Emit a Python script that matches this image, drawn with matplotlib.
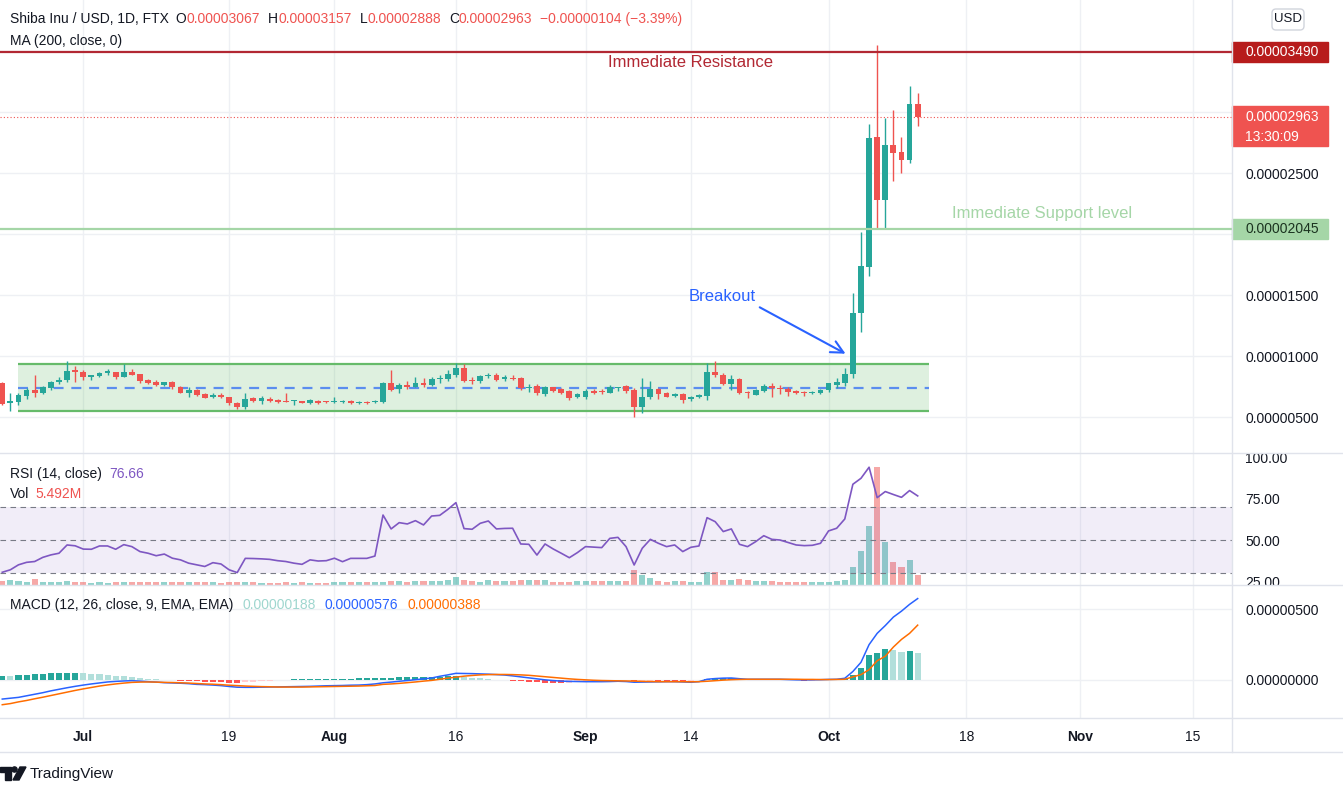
import numpy as np
import pandas as pd
import matplotlib
matplotlib.use("Agg")
import matplotlib.pyplot as plt
import matplotlib.dates as mdates
from matplotlib.patches import Rectangle, FancyBboxPatch, Polygon, Circle
from matplotlib.lines import Line2D
from matplotlib.text import Annotation
from matplotlib.transforms import IdentityTransform, Bbox, TransformedBbox
from matplotlib.ticker import FuncFormatter

plt.rcParams['font.family'] = ['Liberation Sans', 'DejaVu Sans']

W, H = 1343, 796
E8 = 1e-8

# daily candles, prices in 1e-8 USD
dates = pd.date_range("2021-06-21", "2021-10-12", freq="D")
open_ = [782, 612, 626, 675, 721, 700, 735, 784, 803, 885,
         872, 831, 836, 858, 866, 825, 872, 852, 803, 787,
         760, 787, 749, 700, 721, 689, 661, 683, 661, 618,
         580, 653, 631, 650, 642, 634, 628, 631, 618, 634,
         626, 623, 626, 634, 618, 626, 620, 626, 782, 727,
         762, 749, 782, 760, 809, 809, 845, 904, 803, 793,
         836, 847, 811, 817, 820, 735, 754, 686, 743, 727,
         716, 661, 667, 716, 711, 700, 735, 754, 721, 585,
         661, 727, 700, 672, 689, 645, 661, 672, 866, 847,
         770, 809, 708, 683, 716, 757, 741, 732, 716, 705,
         700, 694, 721, 762, 776, 850, 1350, 1732, 2792, 2279,
         2729, 2672, 2607, 3067]
high = [790, 694, 700, 741, 844, 754, 798, 825, 962, 921,
        885, 844, 872, 896, 872, 934, 893, 852, 809, 803,
        790, 795, 754, 749, 727, 694, 700, 694, 667, 626,
        700, 667, 672, 667, 648, 694, 640, 631, 648, 640,
        628, 667, 640, 637, 631, 631, 640, 790, 885, 776,
        798, 831, 817, 825, 847, 885, 945, 934, 825, 844,
        863, 858, 847, 844, 825, 770, 770, 754, 749, 735,
        721, 694, 727, 732, 727, 762, 749, 762, 735, 817,
        798, 735, 708, 700, 694, 672, 689, 940, 962, 858,
        844, 817, 716, 727, 770, 782, 762, 749, 721, 716,
        716, 727, 782, 817, 899, 1514, 2019, 2899, 3549, 2948,
        3016, 2792, 3213, 3157]
low = [600, 552, 599, 648, 667, 686, 721, 768, 790, 790,
       803, 803, 825, 844, 809, 825, 847, 776, 768, 754,
       757, 730, 694, 661, 675, 653, 653, 653, 599, 569,
       569, 626, 607, 623, 612, 623, 599, 612, 604, 610,
       618, 618, 612, 607, 607, 607, 612, 618, 716, 700,
       727, 743, 749, 754, 776, 798, 831, 790, 768, 782,
       817, 798, 798, 803, 721, 708, 681, 672, 708, 689,
       640, 653, 650, 689, 689, 694, 716, 694, 498, 536,
       645, 645, 661, 661, 612, 634, 653, 640, 831, 762,
       721, 689, 653, 678, 708, 667, 689, 672, 689, 672,
       689, 689, 708, 735, 754, 817, 1200, 1659, 2046, 2046,
       2437, 2503, 2585, 2888]
close = [607, 631, 681, 721, 700, 743, 784, 803, 880, 872,
         831, 842, 863, 874, 825, 866, 847, 798, 776, 760,
         787, 743, 700, 721, 681, 659, 678, 661, 612, 580,
         645, 631, 653, 631, 623, 626, 634, 615, 637, 615,
         620, 631, 631, 612, 626, 618, 634, 782, 721, 762,
         749, 782, 760, 814, 820, 855, 899, 798, 793, 836,
         847, 803, 825, 809, 735, 743, 694, 743, 716, 694,
         653, 686, 716, 700, 703, 743, 743, 716, 585, 661,
         727, 689, 667, 689, 640, 667, 683, 866, 842, 768,
         809, 694, 694, 721, 757, 735, 727, 708, 694, 700,
         705, 721, 776, 790, 852, 1350, 1738, 2784, 2279, 2729,
         2667, 2607, 3065, 2963]
volume_m = [2.4, 2.7, 2.0, 1.6, 3.3, 1.5, 1.5, 1.5, 2.2, 1.5,
            1.5, 0.9, 1.5, 0.9, 1.5, 1.5, 1.5, 1.5, 1.5, 1.5,
            1.5, 1.5, 1.5, 1.5, 1.5, 1.5, 1.5, 0.9, 1.5, 1.5,
            1.5, 1.5, 0.9, 0.9, 0.9, 1.5, 0.9, 1.5, 0.9, 0.9,
            0.9, 1.5, 1.5, 1.5, 1.5, 1.5, 1.5, 1.5, 2.2, 2.2,
            1.5, 2.2, 2.2, 2.2, 2.2, 2.9, 4.2, 2.9, 2.2, 1.5,
            2.6, 2.2, 2.2, 2.2, 2.6, 2.6, 2.6, 2.6, 1.5, 1.5,
            1.5, 2.2, 2.2, 2.2, 2.2, 2.2, 2.2, 2.2, 8.2, 5.5,
            3.8, 2.2, 1.5, 2.2, 2.2, 1.5, 1.5, 7.0, 7.0, 2.9,
            2.9, 3.3, 2.6, 2.2, 2.2, 2.2, 1.5, 1.5, 1.5, 1.5,
            1.5, 1.5, 1.5, 2.2, 2.9, 9.7, 18.7, 32.4, 64.6, 23.6,
            12.6, 9.6, 13.5, 5.492]
rsi = [30.5, 32, 35, 36.5, 37, 39.5, 41, 42, 47, 46.5,
       44.5, 44.4, 46.4, 46.4, 44.4, 47.2, 46, 43, 42, 40.5,
       41.5, 39, 38, 36, 35, 34, 36.3, 35.5, 32, 30.3,
       38.9, 38.8, 38.6, 38.3, 37.5, 37, 36, 35.3, 38, 37.3,
       37.5, 39, 36.9, 38.9, 38.9, 38.9, 40.3, 65.1, 56.7, 60.5,
       59.7, 61.7, 59.1, 64.5, 64.9, 68.5, 72.6, 56.9, 56.5, 60.1,
       61.5, 56.7, 57, 57.1, 47.6, 47.4, 40.9, 47.6, 44.6, 42,
       39.3, 42.4, 46, 45.7, 45.4, 51, 51.6, 46, 34.9, 45,
       50.4, 48, 46, 47, 43, 45.6, 46.4, 63.5, 61.1, 55.1,
       56.7, 47.4, 46, 49, 52.6, 50.4, 50, 48.5, 47, 46.6,
       46.8, 48, 55.5, 57.1, 62.7, 83.7, 87.3, 94, 75.6, 79.3,
       77.5, 75.8, 79.9, 76.66]
# MACD pane, in 1e-8 USD
macd = [-135, -129, -123, -112, -101, -90, -77, -66, -55, -45,
        -36, -28, -21, -14, -10, -7, -5, -8, -12, -15,
        -19, -21, -23, -26, -31, -33, -36, -40, -46, -51,
        -52, -52, -51, -50, -49, -48, -47, -46, -45, -43,
        -41, -40, -39, -37, -36, -33, -28, -20, -15, -9,
        -4, 2, 8, 14, 26, 36, 47, 46, 45, 43,
        41, 38, 35, 29, 22, 15, 8, 1, -4, -8,
        -10, -11, -12, -12, -12, -11, -9, -11, -16, -15,
        -14, -13, -12, -12, -14, -16, -12, 5, 10, 13,
        14, 9, 5, 5, 5, 5, 5, 3, 1, 0,
        1, 2, 4, 5, 12, 60, 125, 250, 330, 385,
        445, 487, 535, 576]
signal = [-175, -167, -155, -145, -133, -122, -110, -98, -86, -74,
          -63, -53, -43, -35, -28, -22, -17, -15, -14, -15,
          -17, -18, -20, -22, -25, -28, -30, -33, -37, -40,
          -43, -45, -47, -48, -50, -50, -50, -50, -49, -48,
          -47, -46, -45, -44, -43, -41, -39, -31, -28, -24,
          -19, -14, -8, -3, 5, 13, 20, 27, 32, 36,
          38, 39, 39, 38, 36, 33, 28, 23, 18, 13,
          8, 4, 1, -2, -4, -5, -6, -7, -8, -10,
          -11, -12, -12, -12, -12, -13, -12, -9, -5, -1,
          2, 4, 5, 5, 5, 5, 5, 5, 5, 4,
          4, 3, 3, 4, 5, 22, 38, 73, 136, 168,
          233, 287, 330, 388]
histogram = [30, 28, 33, 36, 40, 43, 46, 48, 50, 52,
             48, 44, 40, 35, 30, 25, 20, 14, 8, 4,
             1, -2, -5, -8, -10, -11, -13, -16, -19, -20,
             -17, -13, -9, -6, -3, 1, 5, 6, 7, 8,
             9, 9, 10, 10, 11, 11, 12, 14, 16, 18,
             19, 20, 21, 22, 24, 26, 28, 22, 17, 12,
             7, 3, 1, -4, -8, -12, -16, -19, -21, -23,
             -20, -16, -13, -10, -8, -6, -4, -3, -6, -5,
             -4, -6, -8, -10, -11, -6, -1, 8, 12, 14,
             15, 10, 6, 4, 3, 2, 1, -1, -3, -5,
             -4, -2, 1, 3, 6, 35, 87, 177, 194, 217,
             212, 200, 205, 188]

# drawn levels (1e-8 USD)
resistance = 3490
support = 2045
last_price = 2963
range_top, range_mid, range_bottom = 934, 740, 549

tick_dates = ["2021-07-01", "2021-07-19", "2021-08-01", "2021-08-16", "2021-09-01",
              "2021-09-14", "2021-10-01", "2021-10-18", "2021-11-01", "2021-11-15"]
tick_labels = ["Jul", "19", "Aug", "16", "Sep", "14", "Oct", "18", "Nov", "15"]

UP, DOWN = '#26a69a', '#ef5350'
RED = '#ef5350'
TEXT = '#131722'
GRID = '#eef0f4'
SEP = '#e0e3eb'

o = np.array(open_) * E8
h = np.array(high) * E8
l = np.array(low) * E8
c = np.array(close) * E8
x = mdates.date2num(dates)
x0 = x[0]

fig = plt.figure(figsize=(W / 100, H / 100), dpi=100)


def pane(px0, py0, px1, py1, **kw):
    return fig.add_axes([px0 / W, 1 - py1 / H, (px1 - px0) / W, (py1 - py0) / H], **kw)


ax = pane(0, 0, 1232, 453)
ax_vol = pane(0, 453, 1232, 585, sharex=ax)
ax_rsi = ax_vol.twinx()
ax_macd = pane(0, 585, 1232, 718, sharex=ax)

ax.set_xlim(x0 - 0.28, x0 + 151.8)
ax.set_xticks(mdates.date2num(pd.to_datetime(tick_dates)))

for a in (ax, ax_vol, ax_rsi, ax_macd):
    for s in a.spines.values():
        s.set_visible(False)
    a.tick_params(length=0, labelsize=10, labelcolor=TEXT)
    a.tick_params(axis='x', labelbottom=False)
for a in (ax, ax_vol, ax_macd):
    a.grid(axis='x', color=GRID, lw=1)
    a.set_axisbelow(True)

# ---------------- price pane ----------------
ax.set_ylim(205 * E8, 3918 * E8)
ax.yaxis.tick_right()
ax.set_yticks(np.arange(500, 3501, 500) * E8)
ax.yaxis.set_major_formatter(FuncFormatter(
    lambda v, _: f"{v:.8f}" if round(v / E8) in (500, 1000, 1500, 2500) else ""))
ax.tick_params(axis='y', pad=9.4)
ax.grid(axis='y', color=GRID, lw=1)

# consolidation range box
ax.add_patch(Rectangle((x0 + 1.94, range_bottom * E8), 112.4, (range_top - range_bottom) * E8,
                       facecolor='#4caf50', alpha=0.18, edgecolor='none', zorder=1))
ax.hlines([range_top * E8, range_bottom * E8], x0 + 1.94, x0 + 114.34, color='#66bb6a', lw=1.6, zorder=1)
ax.hlines(range_mid * E8, x0 + 1.94, x0 + 114.34, color='#5b8def', lw=1.6, linestyles=(0, (4.5, 3.5)), zorder=2)

# candles
up = c >= o
cols = np.where(up, UP, DOWN)
ax.vlines(x, l, h, colors=cols, lw=1, zorder=3)
ax.bar(x, np.maximum(np.abs(c - o), 9 * E8), bottom=np.minimum(o, c), width=0.72,
       color=cols, zorder=4)

ax.axhline(resistance * E8, color='#b22833', lw=1.6, zorder=5)
ax.axhline(support * E8, color='#a5d6a7', lw=1.6, zorder=5)
ax.axhline(last_price * E8, color='#ef5350', lw=0.8, ls=(0, (1, 2)), zorder=2)

ax.text(x0 + 85, 3402 * E8, "Immediate Resistance", color='#b22833', fontsize=12,
        ha='center', va='center')
ax.text(x0 + 128.3, 2172 * E8, "Immediate Support level", color='#a5d6a7', fontsize=12,
        ha='center', va='center')
ax.text(x0 + 88.9, 1484 * E8, "Breakout", color='#2962ff', fontsize=12, ha='center', va='center')
ax.annotate("", xy=(x0 + 104.4, 1008 * E8), xytext=(x0 + 93.2, 1410 * E8),
            arrowprops=dict(arrowstyle='->', color='#2962ff', lw=1.5, mutation_scale=22))

# ---------------- RSI + volume pane ----------------
ax_vol.set_ylim(0, 72.4)
ax_vol.set_yticks([])
vol_colors = [(0.149, 0.651, 0.604, 0.5) if u else (0.937, 0.325, 0.314, 0.5) for u in up]
ax_vol.bar(x, volume_m, width=0.75, color=vol_colors, zorder=2)

ax_rsi.patch.set_visible(False)
ax_rsi.set_ylim(22.8, 102.6)
ax_rsi.set_yticks([25, 50, 75, 100])
ax_rsi.yaxis.set_major_formatter(FuncFormatter(lambda v, _: f"{v:.2f}"))
ax_rsi.tick_params(axis='y', pad=9.4)
ax_rsi.axhspan(30, 70, color='#7e57c2', alpha=0.1, lw=0)
for lvl in (70, 50, 30):
    ax_rsi.axhline(lvl, color='#787b86', lw=0.8, ls=(0, (5, 4)))
ax_rsi.plot(x, rsi, color='#7e57c2', lw=1.2)
# the scale labels are cut by the pane edges, as on the screen
rsi_clip = TransformedBbox(Bbox([[1233, H - 585], [W, H - 454]]), IdentityTransform())
for lab in ax_rsi.get_yticklabels():
    lab.set_clip_box(rsi_clip)
    lab.set_clip_on(True)

# ---------------- MACD pane ----------------
m = np.array(macd, float)
sg = np.array(signal, float)
hist = np.array(histogram, float)
prev = np.r_[hist[0], hist[:-1]]
hcols = np.where(hist >= 0, np.where(hist >= prev, '#26a69a', '#b2dfdb'),
                 np.where(hist < prev, '#ff5252', '#ffcdd2'))
ax_macd.set_ylim(-269 * E8, 672 * E8)
ax_macd.yaxis.tick_right()
ax_macd.set_yticks([0, 500 * E8])
ax_macd.yaxis.set_major_formatter(FuncFormatter(lambda v, _: f"{v:.8f}"))
ax_macd.tick_params(axis='y', pad=9.4)
ax_macd.grid(axis='y', color=GRID, lw=1)
ax_macd.bar(x, hist * E8, width=0.75, color=hcols, zorder=2)
ax_macd.plot(x, m * E8, color='#2962ff', lw=1.1, zorder=3)
ax_macd.plot(x, sg * E8, color='#ff6d00', lw=1.1, zorder=3)

ax_macd.set_xticklabels(tick_labels)
ax_macd.tick_params(axis='x', labelbottom=True, pad=8.6, labelsize=10)
for lab in ax_macd.get_xticklabels():
    if not lab.get_text().isdigit():
        lab.set_fontweight('bold')

# ---------------- separators ----------------
for yy in (453, 585, 718, 752):
    fig.add_artist(Line2D([0, 1], [1 - yy / H] * 2, color=SEP, lw=1, transform=fig.transFigure))
fig.add_artist(Line2D([1232 / W] * 2, [1 - 752 / H, 1], color=SEP, lw=1, transform=fig.transFigure))


# ---------------- legends / headers ----------------
def header(parts, px, py, size=10):
    prev_t = fig.text(px / W, 1 - py / H, parts[0][0], color=parts[0][1], fontsize=size,
                      va='center', ha='left')
    for s, col, gap in parts[1:]:
        prev_t = fig.add_artist(Annotation(
            s, xy=(1, 0), xycoords=prev_t, xytext=(gap, 0), textcoords='offset pixels',
            va='bottom', ha='left', color=col, fontsize=size))


header([("Shiba Inu / USD, 1D, FTX", TEXT, 0), ("O", TEXT, 7), ("0.00003067", RED, 0),
        ("H", TEXT, 8), ("0.00003157", RED, 0), ("L", TEXT, 8), ("0.00002888", RED, 0),
        ("C", TEXT, 8), ("0.00002963", RED, 0), ("\u22120.00000104 (\u22123.39%)", RED, 8)], 10, 19)
header([("MA (200, close, 0)", TEXT, 0)], 10, 41)
header([("RSI (14, close)", TEXT, 0), ("76.66", '#7e57c2', 7)], 10, 474)
header([("Vol", TEXT, 0), ("5.492M", RED, 6)], 10, 494)
header([("MACD (12, 26, close, 9, EMA, EMA)", TEXT, 0), ("0.00000188", '#9fd6cf', 9),
        ("0.00000576", '#2962ff', 9), ("0.00000388", '#ff6d00', 9)], 10, 605)


# ---------------- price tags on the scale ----------------
def tag(axis, value, bg, fg, text2=None):
    yd = axis.transData.transform((0, value))[1]
    if text2 is None:
        fig.add_artist(Rectangle((1232, yd - 10), 96, 20, transform=IdentityTransform(), color=bg))
    else:
        fig.add_artist(Rectangle((1232, yd - 29), 96, 40, transform=IdentityTransform(), color=bg))
        fig.text(1245 / W, (yd - 20) / H, text2, color=fg, fontsize=10, va='center', ha='left')
    fig.text(1245 / W, yd / H, f"{value:.8f}", color=fg, fontsize=10, va='center', ha='left')


tag(ax, resistance * E8, '#b71c1c', 'white')
tag(ax, last_price * E8, '#ef5350', 'white', "13:30:09")
tag(ax, support * E8, '#a5d6a7', '#1b3320')

# currency button
fig.add_artist(FancyBboxPatch((1272, H - 30), 32, 21, boxstyle='round,pad=0,rounding_size=4',
                              transform=IdentityTransform(), facecolor='white',
                              edgecolor='#d1d4dc', lw=1))
fig.text(1288 / W, 1 - 19.5 / H, "USD", color=TEXT, fontsize=9.5, ha='center', va='center')

# TradingView logo
ident = IdentityTransform()
fig.add_artist(Polygon([(0, H - 767), (11, H - 767), (11, H - 780), (5, H - 780), (5, H - 772), (0, H - 772)],
                       closed=True, transform=ident, color=TEXT))
fig.add_artist(Circle((14.5, H - 769.5), 2.6, transform=ident, color=TEXT))
fig.add_artist(Polygon([(20, H - 767), (26, H - 767), (19, H - 780), (13, H - 780)],
                       closed=True, transform=ident, color=TEXT))
fig.text(30 / W, 1 - 774 / H, "TradingView", color=TEXT, fontsize=11, va='center', ha='left')

fig.savefig("out.png", dpi=100, facecolor='white')
